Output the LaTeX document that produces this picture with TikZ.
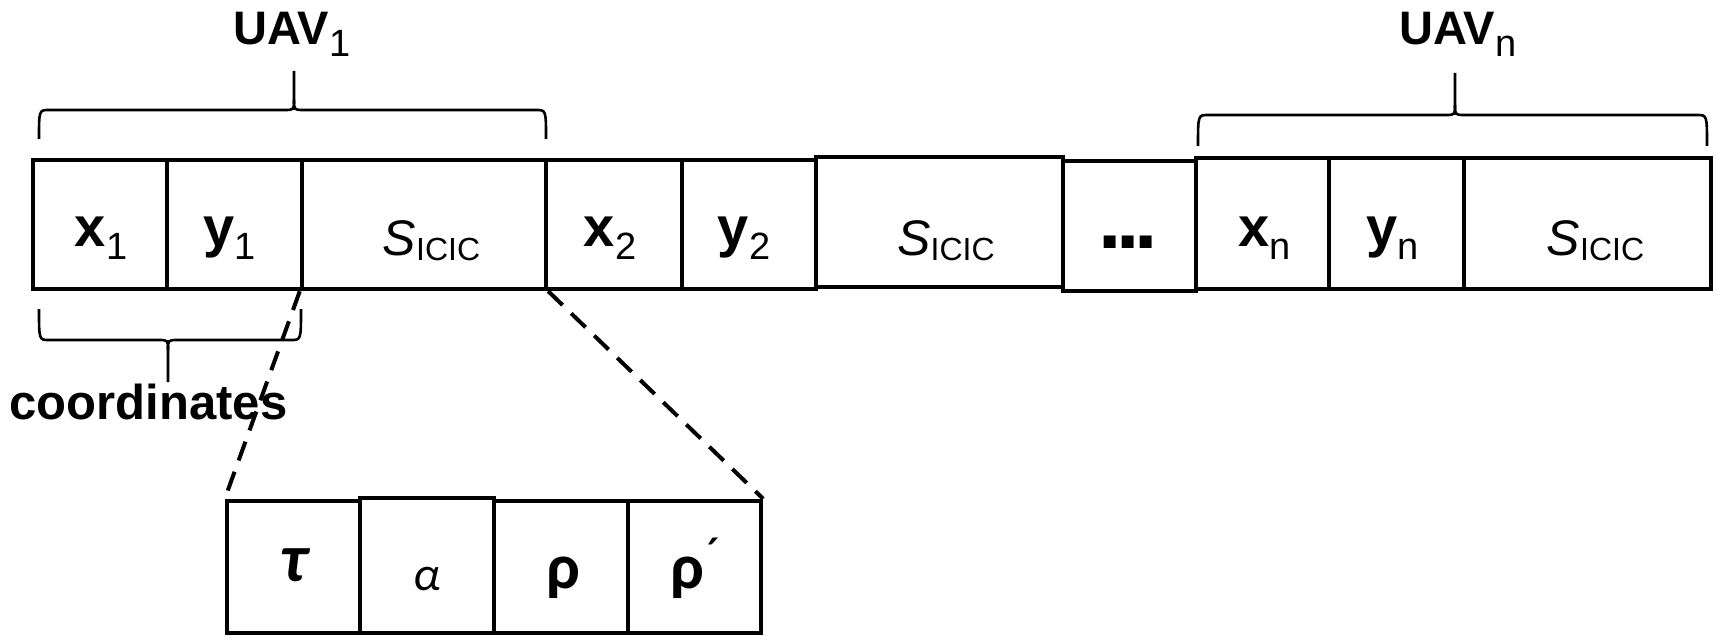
\documentclass[tikz,border=0pt]{standalone}
\usepackage{fontspec}
\setmainfont{Liberation Sans}
\newfontfamily\grkfont{Carlito}
\newcommand\mkcell[6]{\node[cellbox, minimum width={(#3-#2)*0.5pt}, minimum height={(#5-#4)*0.5pt}] (#1) at ({(#2+#3)/2},{(#4+#5)/2}) {#6};}
\newcommand\mainlbl[2]{{\fontsize{28}{30}\selectfont\bfseries #1}\raisebox{-6.5pt}{\fontsize{19}{21}\selectfont #2}}
\newcommand\sicic{{\fontsize{25}{28}\selectfont\itshape S}\raisebox{-2.5pt}{\fontsize{16}{18}\selectfont ICIC}}
\newcommand\uavlbl[1]{{\fontsize{23.5}{26}\selectfont\bfseries UAV}\raisebox{-6pt}{\fontsize{19}{21}\selectfont #1}}
\newcommand\mybrace[7]{%
  \draw[bracestyle] (#1,#4) .. controls (#1,#5) .. ({#1+10},#5) -- ({#3-10},#5) .. controls (#3,#5) .. (#3,#6) -- (#3,#7);
  \draw[bracestyle] (#3,#6) .. controls (#3,#5) .. ({#3+10},#5) -- ({#2-10},#5) .. controls (#2,#5) .. (#2,#4);}
\begin{document}
\begin{tikzpicture}[x=0.5pt,y=-0.5pt,
  cellbox/.style={draw, line width=2.2pt, inner sep=0pt},
  lbl/.style={inner sep=0pt, anchor=base},
  bracestyle/.style={line width=1.3pt},
  zoomline/.style={line width=2pt, dash pattern=on 10pt off 6pt}]
\useasboundingbox (0,0) rectangle (1718,642);
% main row
\mkcell{c1}{33}{167}{160}{289}{}
\mkcell{c2}{167}{302}{160}{289}{}
\mkcell{c3}{302}{546}{160}{289}{}
\mkcell{c4}{546}{682}{160}{289}{}
\mkcell{c5}{682}{816}{160}{289}{}
\mkcell{c6}{816}{1063}{157}{287}{}
\mkcell{c7}{1063}{1196}{161}{291}{}
\mkcell{c8}{1196}{1329}{158}{289}{}
\mkcell{c9}{1329}{1464}{158}{289}{}
\mkcell{c10}{1464}{1711}{158}{289}{}
% bottom row
\mkcell{d1}{227}{360}{501}{633}{}
\mkcell{d2}{360}{494}{498}{633}{}
\mkcell{d3}{494}{628}{501}{633}{}
\mkcell{d4}{628}{761}{501}{633}{}
% zoom lines
\draw[zoomline] (c3.south west) -- (d1.north west);
\draw[zoomline] (c3.south east) -- (d4.north east);
% labels main row
\node[lbl] (t1) at (101,246) {\mainlbl{x}{1}};
\node[lbl] (t2) at (229.5,246) {\mainlbl{y}{1}};
\node[lbl] (t3) at (431.5,255) {\sicic};
\node[lbl] (t4) at (610,246) {\mainlbl{x}{2}};
\node[lbl] (t5) at (744,246) {\mainlbl{y}{2}};
\node[lbl] (t6) at (946,255) {\sicic};
\node[lbl] (t7) at (1128,248) {\fontsize{42}{44}\selectfont\bfseries .\kern-2.5pt.\kern-2.5pt.};
\node[lbl] (t8) at (1264.5,246) {\mainlbl{x}{n}};
\node[lbl] (t9) at (1392.5,246) {\mainlbl{y}{n}};
\node[lbl] (t10) at (1595.5,255) {\sicic};
% braces and their labels
\mybrace{39}{546}{294}{139}{110}{100}{71}
\mybrace{1198}{1707}{1455}{146}{115}{105}{73}
\mybrace{39}{301}{168}{309}{340}{350}{382}
\node[lbl] (u1) at (292,45) {\uavlbl{1}};
\node[lbl] (un) at (1458,45) {\uavlbl{n}};
\node[lbl] (co) at (148.5,419) {\fontsize{24.5}{28}\selectfont\bfseries coordinates};
% bottom labels
\node[lbl] (g1) at (294,581) {\grkfont\fontsize{34}{36}\selectfont\bfseries\itshape τ};
\node[lbl] (g2) at (427.5,590) {\grkfont\fontsize{24}{26}\selectfont\itshape α};
\node[lbl] (g3) at (563.5,588) {\grkfont\fontsize{32}{34}\selectfont\bfseries ρ};
\node[lbl] (g4) at (696.5,588) {\grkfont\fontsize{32}{34}\selectfont\bfseries ρ\kern1pt\raisebox{7.5pt}{\fontsize{26}{28}\selectfont\mdseries ´}};
\end{tikzpicture}
\end{document}
